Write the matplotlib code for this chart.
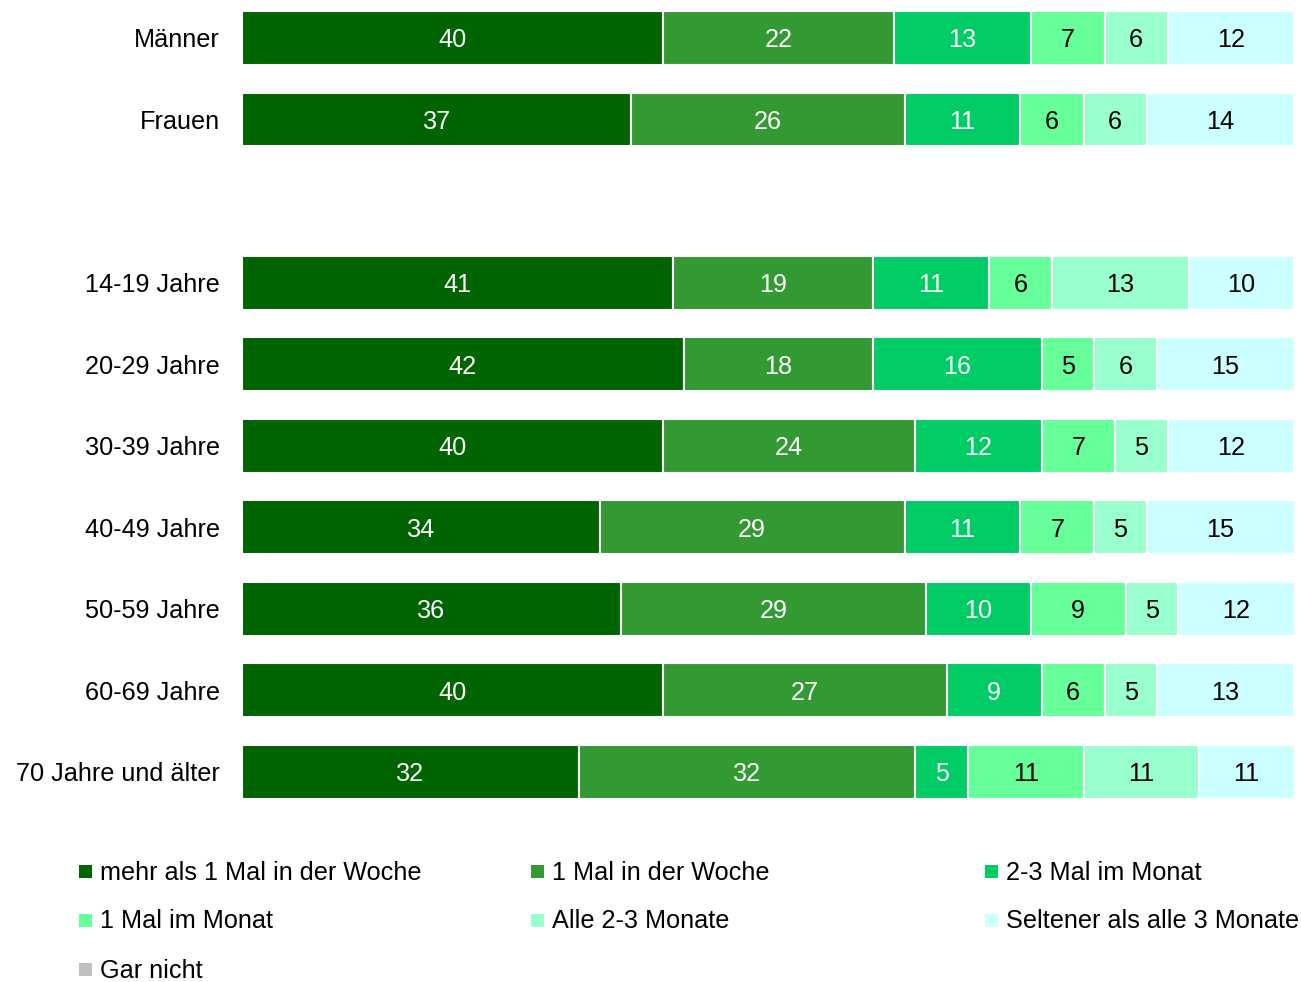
import matplotlib.pyplot as plt
from matplotlib.patches import Rectangle

plt.rcParams['font.family'] = ['Liberation Sans', 'DejaVu Sans']

groups = ["Männer", "Frauen", "14-19 Jahre", "20-29 Jahre", "30-39 Jahre",
          "40-49 Jahre", "50-59 Jahre", "60-69 Jahre", "70 Jahre und älter"]
# row slots; slot 2 stays empty to split gender from age groups
slots = [0, 1, 3, 4, 5, 6, 7, 8, 9]

categories = ["mehr als 1 Mal in der Woche", "1 Mal in der Woche", "2-3 Mal im Monat",
              "1 Mal im Monat", "Alle 2-3 Monate", "Seltener als alle 3 Monate", "Gar nicht"]
colors = ["#006400", "#339933", "#00CC66", "#66FF99", "#99FFCC", "#CCFFFF", "#C0C0C0"]
text_colors = ["white", "white", "white", "black", "black", "black"]

mehr_als_1_woche = [40, 37, 41, 42, 40, 34, 36, 40, 32]
einmal_woche = [22, 26, 19, 18, 24, 29, 29, 27, 32]
zwei_drei_monat = [13, 11, 11, 16, 12, 11, 10, 9, 5]
einmal_monat = [7, 6, 6, 5, 7, 7, 9, 6, 11]
alle_2_3_monate = [6, 6, 13, 6, 5, 5, 5, 5, 11]
seltener = [12, 14, 10, 15, 12, 15, 12, 13, 11]
series = [mehr_als_1_woche, einmal_woche, zwei_drei_monat,
          einmal_monat, alle_2_3_monate, seltener]

fs = 18.2

fig = plt.figure(figsize=(13.01, 9.82), dpi=100)
ax = fig.add_axes([242 / 1301, 1 - 820 / 982, 1052 / 1301, 820 / 982])

left = [0] * len(groups)
for i, vals in enumerate(series):
    bars = ax.barh(slots, vals, left=left, height=0.66, color=colors[i],
                   edgecolor="white", linewidth=1.5)
    for b, v, l in zip(bars, vals, left):
        x_mid = (l + min(l + v, 100)) / 2
        ax.text(x_mid, b.get_y() + b.get_height() / 2, str(v),
                ha="center", va="center_baseline", fontsize=fs, color=text_colors[i])
    left = [l + v for l, v in zip(left, vals)]

ax.set_xlim(0, 100)
ax.set_ylim(9.59, -0.466)
ax.set_yticks(slots)
ax.set_yticklabels(groups, fontsize=fs)
ax.tick_params(axis="y", length=0, pad=16)
ax.set_xticks([])
for s in ax.spines.values():
    s.set_visible(False)

# legend laid out in three fixed-width columns
col_x = [79, 531, 985]
row_y = [870, 919, 968]
for k, (name, c) in enumerate(zip(categories, colors)):
    cx = col_x[k % 3]
    cy = row_y[k // 3]
    fig.add_artist(Rectangle((cx / 1301, 1 - (cy + 8) / 982), 13 / 1301, 13 / 982,
                             transform=fig.transFigure, facecolor=c, edgecolor="none"))
    fig.text((cx + 21) / 1301, 1 - cy / 982, name, fontsize=fs,
             va="center_baseline", ha="left")

fig.savefig("out.png", dpi=100)
